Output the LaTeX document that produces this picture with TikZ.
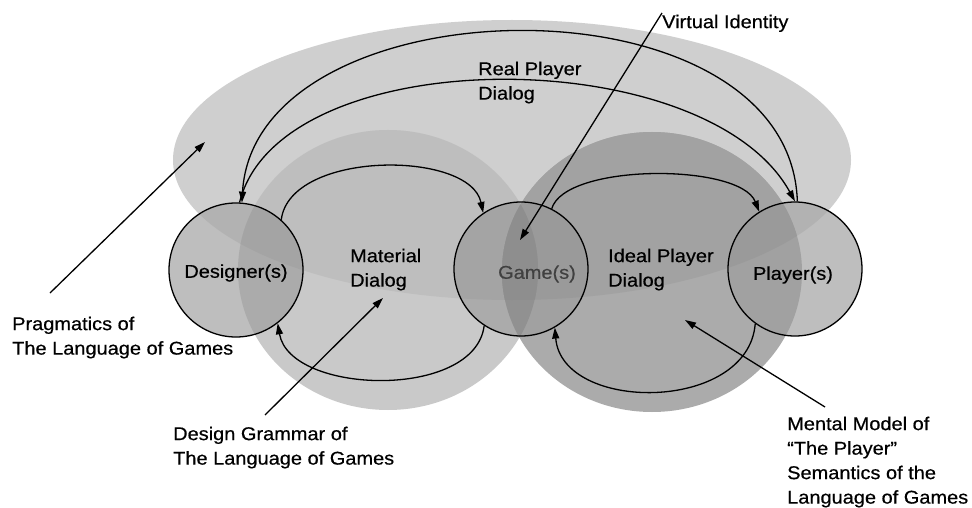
\documentclass[tikz,border=0pt]{standalone}
\usepackage{fontspec}
\setmainfont[FakeStretch=1.08,FakeBold=0.5]{Liberation Sans}
\usetikzlibrary{arrows.meta}
% background region colours
\definecolor{bW}{gray}{1}
\definecolor{bE}{gray}{0.81}
\definecolor{bM}{gray}{0.79}
\definecolor{bEM}{gray}{0.745}
\definecolor{bI}{gray}{0.67}
\definecolor{bIE}{gray}{0.635}
\definecolor{bIM}{gray}{0.60}
\definecolor{bIME}{gray}{0.58}
% region colours inside the small circles
\definecolor{cW}{gray}{0.745}
\definecolor{cE}{gray}{0.70}
\definecolor{cM}{gray}{0.67}
\definecolor{cEM}{gray}{0.645}
\definecolor{cI}{gray}{0.63}
\definecolor{cIE}{gray}{0.605}
\definecolor{cIM}{gray}{0.57}
\definecolor{cIME}{gray}{0.555}
\newcommand\shpE{(512,160) ellipse [x radius=339, y radius=140]}
\newcommand\shpM{(388,270) ellipse [x radius=150, y radius=140]}
\newcommand\shpI{(652,272) ellipse [x radius=150, y radius=140]}
\newcommand\paintregions[8]{%
  \fill[#1] (0,0) rectangle (972,508);
  \fill[#2] \shpE;
  \fill[#3] \shpM;
  \begin{scope}\clip \shpM; \fill[#4] \shpE;\end{scope}
  \fill[#5] \shpI;
  \begin{scope}\clip \shpI; \fill[#6] \shpE;\end{scope}
  \begin{scope}\clip \shpI; \fill[#7] \shpM;\end{scope}
  \begin{scope}\clip \shpI; \clip \shpM; \fill[#8] \shpE;\end{scope}
}
\tikzset{
  txt/.style={inner sep=0pt, align=left, anchor=north west,
    font=\fontsize{18.5}{24.5}\selectfont},
  ctxt/.style={inner sep=0pt, font=\fontsize{18.5}{24.5}\selectfont},
  agent/.style={circle, draw=black, line width=1.3pt, minimum size=134pt, inner sep=0pt},
  arr/.style={line width=1.3pt, -{Triangle[length=11pt,width=7pt]}}
}
\begin{document}
\begin{tikzpicture}[x=1pt,y=-1pt]
\useasboundingbox (0,0) rectangle (972,508);
% shaded regions
\paintregions{bW}{bE}{bM}{bEM}{bI}{bIE}{bIM}{bIME}
\begin{scope}\clip (236,270) circle [radius=67];
  \paintregions{cW}{cE}{cM}{cEM}{cI}{cIE}{cIM}{cIME}\end{scope}
\begin{scope}\clip (521,269) circle [radius=67];
  \paintregions{cW}{cE}{cM}{cEM}{cI}{cIE}{cIM}{cIME}\end{scope}
\begin{scope}\clip (795,269) circle [radius=67];
  \paintregions{cW}{cE}{cM}{cEM}{cI}{cIE}{cIM}{cIME}\end{scope}
% agents
\node[agent] (designer) at (236,270) {};
\node[agent] (game) at (521,269) {};
\node[agent] (player) at (795,269) {};
\node[ctxt] (dtxt) at (236,273) {Designer(s)};
\node[ctxt, text=black!75] (gtxt) at (537,274) {Game(s)};
\node[ctxt] (ptxt) at (793,275) {Player(s)};
% labels
\node[txt] (real) at (478,61.5) {Real Player\\Dialog};
\node[txt] (mat) at (350,248.5) {Material\\Dialog};
\node[txt] (ideal) at (608,248.5) {Ideal Player\\Dialog};
\node[txt] (vi) at (662,14.5) {Virtual Identity};
\node[txt] (prag) at (12,316.5) {Pragmatics of\\The Language of Games};
\node[txt] (dg) at (173,426.5) {Design Grammar of\\The Language of Games};
\node[txt] (mm) at (787,416.5) {Mental Model of\\“The Player”\\Semantics of the\\Language of Games};
% free ends
\coordinate (pragTail) at (50,293);
\coordinate (pragTip) at (205,142);
\coordinate (dgTail) at (265,415);
\coordinate (dgTip) at (383,298);
\coordinate (mmTail) at (825,407);
\coordinate (mmTip) at (685,320);
\coordinate (viTail) at (662,13);
\coordinate (viTip) at (520,240);
% pointer arrows
\draw[arr] (pragTail) -- (pragTip);
\draw[arr] (dgTail) -- (dgTip);
\draw[arr] (mmTail) -- (mmTip);
\draw[arr] (viTail) -- (viTip);
% material dialog
\draw[arr] (designer.48) .. controls (290,150) and (470,150) .. (game.124);
\draw[arr] (game.237) .. controls (475,400) and (290,395) .. (designer.308);
% ideal player dialog
\draw[arr] (game.63) .. controls (565,163) and (740,163) .. (player.122);
\draw[arr] (player.234) .. controls (748,413) and (562,413) .. (game.300);
% real player dialog
\draw[arr] (player.88) .. controls (790,-30) and (255,-20) .. (designer.85);
\draw[arr] (designer.87) .. controls (280,40) and (706,40) .. (player.90);
\end{tikzpicture}
\end{document}
